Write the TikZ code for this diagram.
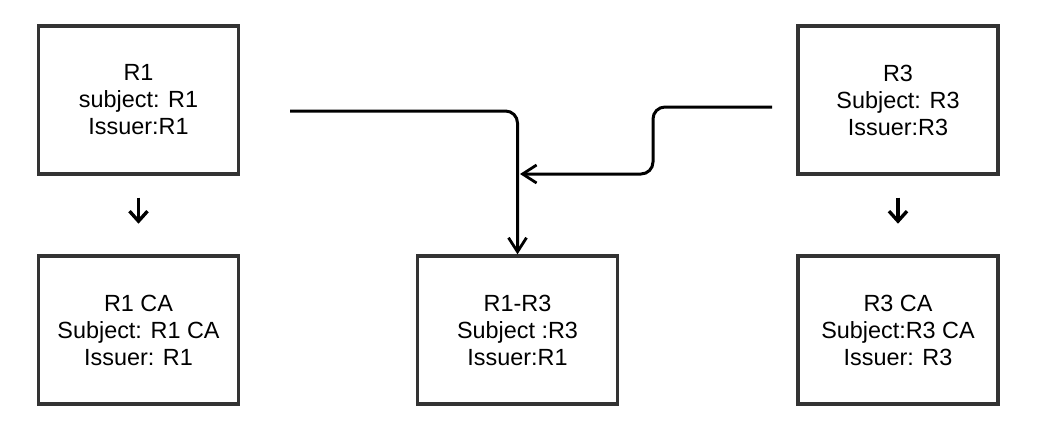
\documentclass[tikz,border=0pt]{standalone}
\usepackage{fontspec}
\setmainfont{Liberation Sans}
\usetikzlibrary{arrows.meta,positioning}

\begin{document}
\begin{tikzpicture}[
    x = 0.5pt, y = 0.5pt,
    >={Straight Barb[length=7pt,width=9pt,line width=1.4pt]},
    every node/.style = {font=\fontsize{11.7}{13.5}\selectfont},
    % Named styles
    certbox/.style = {draw=black!80, line width=1.7pt, minimum width=100pt,
                      minimum height=74pt, align=center, inner sep=2pt},
    link/.style    = {->, line width=1.5pt, rounded corners=6pt},
    issue/.style   = {->, line width=1.7pt,
                      >={Straight Barb[length=5pt,width=9pt,line width=1.7pt]}},
]

% ── Canvas (1 unit = 1 px of the reference) ──────────────────────────────────
\useasboundingbox (0,0) rectangle (1050,430);
\def\yTop{330}   % centre row of the self-signed certificates
\def\yBot{100}   % centre row of the issued certificates

% ── Self-signed roots ────────────────────────────────────────────────────────
\node[certbox] (rone)   at (138.5,\yTop) {R1\\subject: R1\\Issuer:R1};
\node[certbox] (rthree) at (898,\yTop)   {R3\\Subject: R3\\Issuer:R3};

% ── Issued certificates ──────────────────────────────────────────────────────
\node[certbox] (ronca)   at (138.5,\yBot) {R1 CA\\Subject: R1 CA\\Issuer: R1};
\node[certbox] (cross)   at (517.5,\yBot) {R1-R3\\Subject :R3\\Issuer:R1};
\node[certbox] (rthreeca) at (898,\yBot)  {R3 CA\\Subject:R3 CA\\Issuer: R3};

% ── Short issue arrows ───────────────────────────────────────────────────────
\draw[issue] ([yshift=-11pt]rone.south)   -- ([yshift=-24pt]rone.south);
\draw[issue] ([yshift=-11pt]rthree.south) -- ([yshift=-24pt]rthree.south);

% ── Cross-certification lines ────────────────────────────────────────────────
\coordinate (fromone)   at (290,319);
\coordinate (fromthree) at (772,323);
\coordinate (merge)     at (520,256);

% From R1 down into R1-R3
\draw[link] (fromone) -- (cross.north |- fromone) -- (cross.north);

% From R3 with a step, joining the vertical line
\draw[link] (fromthree) -- (653,323) -- (653,256) -- (merge);

\end{tikzpicture}
\end{document}
